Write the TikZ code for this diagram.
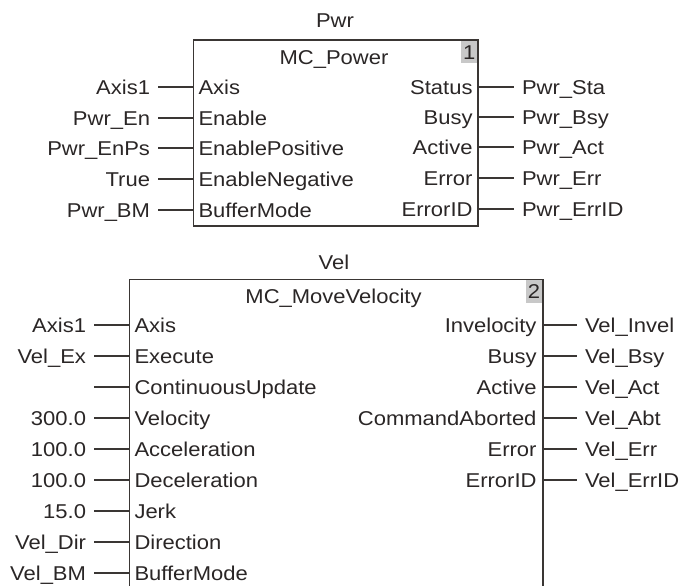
\documentclass[tikz,border=0pt]{standalone}
\usepackage{fontspec}
\setmainfont{Liberation Sans}[FakeStretch=1.1]
\definecolor{txt}{HTML}{2A2626}
\definecolor{ln}{HTML}{3A3634}
\definecolor{numbg}{HTML}{C8C8C8}
\begin{document}
\begin{tikzpicture}[x=1pt,y=-1pt,
  every node/.style={font=\fontsize{20}{24}\selectfont, text=txt, inner sep=0pt, outer sep=0pt, text height=14.3pt, text depth=0pt},
  inl/.style={anchor=east, inner xsep=8pt},
  outl/.style={anchor=west, inner xsep=8pt},
  pinl/.style={anchor=west},
  pinr/.style={anchor=east},
  conn/.style={draw=ln, line width=1.1pt},
  blk/.style={draw=ln, line width=1.6pt},
  numbox/.style={fill=numbg, anchor=north east, align=right, text width=12pt, inner xsep=2pt},
]
\useasboundingbox (0,0) rectangle (683,586);

% ---------- Block 1: MC_Power ----------
\node[blk, anchor=north west, minimum width=284.7pt, minimum height=186pt] (pwr) at (193.3,40) {};
\node[numbox, minimum height=22.5pt] (pwrnum) at ([xshift=-0.8pt,yshift=-0.8pt]pwr.north east) {1};
\node (pwrname) at (335,20) {Pwr};
\node (pwrtype) at (334,57) {MC\_Power};

\foreach \y/\pin/\ext/\id in {87/Axis/Axis1/a, 118/Enable/Pwr\_En/b, 148/EnablePositive/Pwr\_EnPs/c, 179/EnableNegative/True/d, 210/BufferMode/Pwr\_BM/e}{
  \coordinate (pwrin\id) at (193.3,\y);
  \node[pinl] (pwrpin\id) at (198.5,\y) {\pin};
  \node[inl] (pwrext\id) at (158,\y) {\ext};
  \draw[conn] (pwrext\id.east) -- (pwrin\id);
}
\foreach \y/\pin/\ext/\id in {87/Status/Pwr\_Sta/a, 117/Busy/Pwr\_Bsy/b, 147/Active/Pwr\_Act/c, 178/Error/Pwr\_Err/d, 209/ErrorID/Pwr\_ErrID/e}{
  \coordinate (pwrout\id) at (478,\y);
  \node[pinr] (pwrpo\id) at (472.5,\y) {\pin};
  \node[outl] (pwrx\id) at (514,\y) {\ext};
  \draw[conn] (pwrout\id) -- (pwrx\id.west);
}

% ---------- Block 2: MC_MoveVelocity ----------
\coordinate (velbl) at (129.3,586);
\coordinate (veltl) at (129.3,279.3);
\coordinate (veltr) at (542.7,279.3);
\coordinate (velbr) at (542.7,586);
\node[numbox, minimum height=23pt] (velnum) at ([xshift=-0.8pt,yshift=-0.8pt]veltr) {2};
\draw[blk] (velbl) -- (veltl) -- (veltr) -- (velbr);
\node (velname) at (334,262) {Vel};
\node (veltype) at (333.5,296) {MC\_MoveVelocity};

\foreach \y/\pin/\ext/\id in {325/Axis/Axis1/a, 356/Execute/Vel\_Ex/b, 418/Velocity/300.0/d, 449/Acceleration/100.0/e, 480/Deceleration/100.0/f, 511/Jerk/15.0/g, 542/Direction/Vel\_Dir/h, 573/BufferMode/Vel\_BM/i}{
  \coordinate (velin\id) at (129.3,\y);
  \node[pinl] (velpin\id) at (134.5,\y) {\pin};
  \node[inl] (velext\id) at (94,\y) {\ext};
  \draw[conn] (velext\id.east) -- (velin\id);
}
\coordinate (velinc) at (129.3,387);
\coordinate (velextc) at (94,387);
\node[pinl] (velpinc) at (134.5,387) {ContinuousUpdate};
\draw[conn] (velextc) -- (velinc);

\foreach \y/\pin/\ext/\id in {325/Invelocity/Vel\_Invel/a, 356/Busy/Vel\_Bsy/b, 387/Active/Vel\_Act/c, 418/CommandAborted/Vel\_Abt/d, 449/Error/Vel\_Err/e, 480/ErrorID/Vel\_ErrID/f}{
  \coordinate (velout\id) at (542.7,\y);
  \node[pinr] (velpo\id) at (536.5,\y) {\pin};
  \node[outl] (velx\id) at (577,\y) {\ext};
  \draw[conn] (velout\id) -- (velx\id.west);
}
\end{tikzpicture}
\end{document}
